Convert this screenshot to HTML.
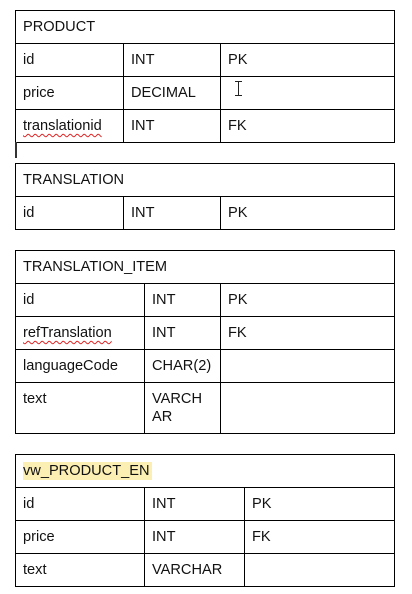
<!DOCTYPE html>
<html><head><style>
body{margin:0;width:412px;height:594px;background:#fff;position:relative;overflow:hidden;font-family:"Liberation Sans",Arial,sans-serif;font-size:14.6px;color:#111;}
.b{position:absolute;border:1px solid #000;box-sizing:border-box;}
.h{position:absolute;height:1px;background:#000;}
.v{position:absolute;width:1px;background:#000;}
.t{position:absolute;line-height:18px;white-space:nowrap;}
.sq{text-decoration:underline wavy #d22;text-decoration-thickness:1px;text-underline-offset:3px;}
</style></head><body>
<!-- Table 1 -->
<div class="b" style="left:15px;top:10px;width:380px;height:133px"></div>
<div class="h" style="left:15px;top:43px;width:380px"></div>
<div class="h" style="left:15px;top:76px;width:380px"></div>
<div class="h" style="left:15px;top:109px;width:380px"></div>
<div class="v" style="left:123px;top:43px;height:99px"></div>
<div class="v" style="left:220px;top:43px;height:99px"></div>
<div class="t" style="left:23px;top:18px">PRODUCT</div>
<div class="t" style="left:23px;top:51px">id</div><div class="t" style="left:131px;top:51px">INT</div><div class="t" style="left:228px;top:51px">PK</div>
<div class="t" style="left:23px;top:84px">price</div><div class="t" style="left:131px;top:84px">DECIMAL</div>
<div class="v" style="left:238px;top:81px;height:14px;background:#222"></div>
<div class="h" style="left:235px;top:81px;width:7px;background:#222"></div>
<div class="h" style="left:235px;top:95px;width:7px;background:#222"></div>
<div class="t sq" style="left:23px;top:117px">translationid</div><div class="t" style="left:131px;top:117px">INT</div><div class="t" style="left:228px;top:117px">FK</div>
<div class="v" style="left:15px;top:142px;height:16px;width:2px;background:#333"></div>
<!-- Table 2 -->
<div class="b" style="left:15px;top:163px;width:380px;height:67px"></div>
<div class="h" style="left:15px;top:196px;width:380px"></div>
<div class="v" style="left:123px;top:196px;height:33px"></div>
<div class="v" style="left:220px;top:196px;height:33px"></div>
<div class="t" style="left:23px;top:171px">TRANSLATION</div>
<div class="t" style="left:23px;top:204px">id</div><div class="t" style="left:131px;top:204px">INT</div><div class="t" style="left:228px;top:204px">PK</div>
<!-- Table 3 -->
<div class="b" style="left:15px;top:250px;width:380px;height:184px"></div>
<div class="h" style="left:15px;top:283px;width:380px"></div>
<div class="h" style="left:15px;top:316px;width:380px"></div>
<div class="h" style="left:15px;top:349px;width:380px"></div>
<div class="h" style="left:15px;top:382px;width:380px"></div>
<div class="v" style="left:144px;top:283px;height:150px"></div>
<div class="v" style="left:220px;top:283px;height:150px"></div>
<div class="t" style="left:23px;top:258px">TRANSLATION_ITEM</div>
<div class="t" style="left:23px;top:291px">id</div><div class="t" style="left:152px;top:291px">INT</div><div class="t" style="left:228px;top:291px">PK</div>
<div class="t sq" style="left:23px;top:324px">refTranslation</div><div class="t" style="left:152px;top:324px">INT</div><div class="t" style="left:228px;top:324px">FK</div>
<div class="t" style="left:23px;top:357px">languageCode</div><div class="t" style="left:152px;top:357px">CHAR(2)</div>
<div class="t" style="left:23px;top:390px">text</div><div class="t" style="left:152px;top:390px">VARCH<br>AR</div>
<!-- Table 4 -->
<div class="b" style="left:15px;top:454px;width:380px;height:133px"></div>
<div class="h" style="left:15px;top:487px;width:380px"></div>
<div class="h" style="left:15px;top:520px;width:380px"></div>
<div class="h" style="left:15px;top:553px;width:380px"></div>
<div class="v" style="left:144px;top:487px;height:99px"></div>
<div class="v" style="left:244px;top:487px;height:99px"></div>
<div style="position:absolute;left:23px;top:462px;width:129px;height:18px;background:#fcefb4"></div>
<div class="t" style="left:23px;top:462px">vw_PRODUCT_EN</div>
<div class="t" style="left:23px;top:495px">id</div><div class="t" style="left:152px;top:495px">INT</div><div class="t" style="left:252px;top:495px">PK</div>
<div class="t" style="left:23px;top:528px">price</div><div class="t" style="left:152px;top:528px">INT</div><div class="t" style="left:252px;top:528px">FK</div>
<div class="t" style="left:23px;top:561px">text</div><div class="t" style="left:152px;top:561px">VARCHAR</div>
</body></html>
